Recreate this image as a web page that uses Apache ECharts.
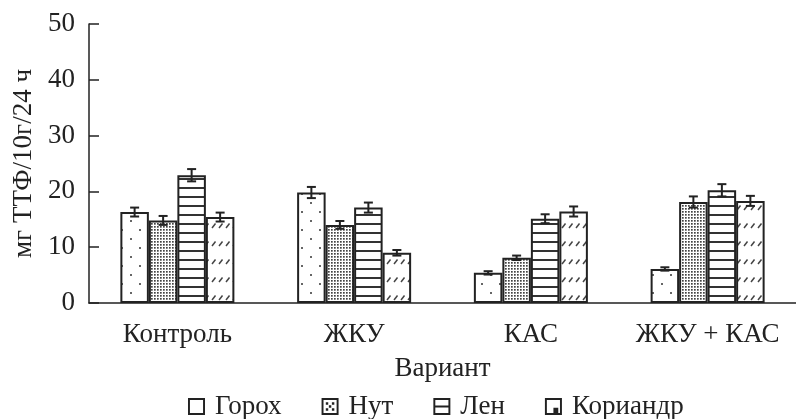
<html>
<head>
    <meta charset="utf-8">
    <title></title>
    <script src="https://cdn.jsdelivr.net/npm/echarts@6/dist/echarts.min.js" type="text/javascript"></script>
    <style>
        html, body { margin: 0; padding: 0; background: #fff; }
    </style>
</head>
<body>
    <div id="main" style="width: 796px; height: 419px"></div>
    <script>
        var categories = ['Контроль', 'ЖКУ', 'КАС', 'ЖКУ + КАС'];
        var seriesNames = ['Горох', 'Нут', 'Лен', 'Кориандр'];
        var gorokh = [16.3, 19.8, 5.4, 6.1];
        var nut = [14.8, 14.0, 8.1, 18.1];
        var len = [22.9, 17.1, 15.1, 20.2];
        var koriandr = [15.4, 9.0, 16.4, 18.3];
        var gorokhErr = [0.8, 1.0, 0.3, 0.3];
        var nutErr = [0.8, 0.7, 0.4, 1.0];
        var lenErr = [1.1, 0.9, 0.8, 1.1];
        var koriandrErr = [0.8, 0.5, 0.9, 0.9];

        var font = 'Liberation Serif';
        var ink = '#222';
        var catGap = 0.355;

        function makeTile(w, h, draw) {
            var c = document.createElement('canvas');
            c.width = w; c.height = h;
            var ctx = c.getContext('2d');
            ctx.fillStyle = '#fff';
            ctx.fillRect(0, 0, w, h);
            draw(ctx);
            return { image: c, repeat: 'repeat' };
        }

        // sparse dots
        var patGorokh = makeTile(18, 18, function (ctx) {
            ctx.fillStyle = '#666';
            ctx.fillRect(4, 4, 2, 2);
            ctx.fillRect(13, 13, 2, 2);
        });
        // dense dots
        var patNut = makeTile(3, 3, function (ctx) {
            ctx.fillStyle = '#444';
            ctx.fillRect(1, 1, 1.7, 1.7);
        });
        // horizontal lines
        var patLen = makeTile(9, 9, function (ctx) {
            ctx.fillStyle = '#333';
            ctx.fillRect(0, 7, 9, 2);
        });
        // short diagonal strokes
        var patKor = makeTile(7, 18, function (ctx) {
            ctx.strokeStyle = '#444';
            ctx.lineWidth = 1.5;
            ctx.beginPath();
            ctx.moveTo(2, 12);
            ctx.lineTo(5.5, 7.5);
            ctx.stroke();
        });

        var values = [gorokh, nut, len, koriandr];
        var errs = [gorokhErr, nutErr, lenErr, koriandrErr];
        var patterns = [patGorokh, patNut, patLen, patKor];

        var ring = 'M0,0H14V14H0Z M1.6,1.6V12.4H12.4V1.6Z';
        var icons = [
            'path://' + ring,
            'path://' + ring + ' M3.5,3.5H5.5V5.5H3.5Z M8.5,3.5H10.5V5.5H8.5Z M6,6H8V8H6Z M3.5,8.5H5.5V10.5H3.5Z M8.5,8.5H10.5V10.5H8.5Z',
            'path://M0,0H14V14H0Z M1.6,1.6V6.2H12.4V1.6Z M1.6,7.8V12.4H12.4V7.8Z',
            'path://' + ring + ' M7,8H11V12.4H7Z'
        ];

        var series = [];
        for (var i = 0; i < 4; i++) {
            series.push({
                name: seriesNames[i],
                type: 'bar',
                data: values[i],
                barGap: '0%',
                barCategoryGap: (catGap * 100) + '%',
                itemStyle: { color: patterns[i], borderColor: ink, borderWidth: 2 },
                z: 2
            });
        }
        for (var j = 0; j < 4; j++) {
            (function (si) {
                var d = [];
                for (var k = 0; k < categories.length; k++) {
                    d.push([k, values[si][k] - errs[si][k], values[si][k] + errs[si][k]]);
                }
                series.push({
                    name: 'err' + si,
                    type: 'custom',
                    data: d,
                    encode: { x: 0, y: [1, 2] },
                    z: 5,
                    renderItem: function (params, api) {
                        var lo = api.coord([api.value(0), api.value(1)]);
                        var hi = api.coord([api.value(0), api.value(2)]);
                        var band = api.size([1, 0])[0];
                        var bw = band * (1 - catGap) / 4;
                        var x = lo[0] + (si - 1.5) * bw;
                        var cap = 4.5;
                        var st = { stroke: ink, lineWidth: 2 };
                        return {
                            type: 'group',
                            children: [
                                { type: 'line', shape: { x1: x, y1: lo[1], x2: x, y2: hi[1] }, style: st },
                                { type: 'line', shape: { x1: x - cap, y1: lo[1], x2: x + cap, y2: lo[1] }, style: st },
                                { type: 'line', shape: { x1: x - cap, y1: hi[1], x2: x + cap, y2: hi[1] }, style: st }
                            ]
                        };
                    }
                });
            })(j);
        }

        var legendData = [];
        for (var m = 0; m < 4; m++) {
            legendData.push({ name: seriesNames[m], icon: icons[m], itemStyle: { color: ink, borderWidth: 0 } });
        }

        window.onload = function () {
            var myChart = echarts.init(document.getElementById('main'));
            var option = {
                animation: false,
                backgroundColor: '#fff',
                grid: { left: 89, right: 0, top: 24, bottom: 116, containLabel: false },
                legend: {
                    data: legendData,
                    left: 183,
                    top: 388,
                    itemWidth: 17,
                    itemHeight: 17,
                    itemGap: 40,
                    textStyle: { fontFamily: font, fontSize: 27, color: ink, padding: [0, 0, 0, 5] }
                },
                xAxis: {
                    type: 'category',
                    data: categories,
                    name: 'Вариант',
                    nameLocation: 'middle',
                    nameGap: 52,
                    nameTextStyle: { fontFamily: font, fontSize: 27, color: ink },
                    axisLine: { lineStyle: { color: ink, width: 1.5 } },
                    axisTick: { inside: true, length: 10, lineStyle: { color: ink, width: 1.5 } },
                    axisLabel: { interval: 0, hideOverlap: false, fontFamily: font, fontSize: 27, color: ink, margin: 18 }
                },
                yAxis: {
                    type: 'value',
                    min: 0,
                    max: 50,
                    interval: 10,
                    name: 'мг ТТФ/10г/24 ч',
                    nameLocation: 'middle',
                    nameGap: 50,
                    nameTextStyle: { fontFamily: font, fontSize: 27, color: ink },
                    splitLine: { show: false },
                    axisLine: { show: true, lineStyle: { color: ink, width: 1.5 } },
                    axisTick: { show: true, inside: true, length: 10, lineStyle: { color: ink, width: 1.5 } },
                    axisLabel: { fontFamily: font, fontSize: 27, color: ink, margin: 14 }
                },
                series: series
            };
            myChart.setOption(option);
        };
    </script>
</body>
</html>
